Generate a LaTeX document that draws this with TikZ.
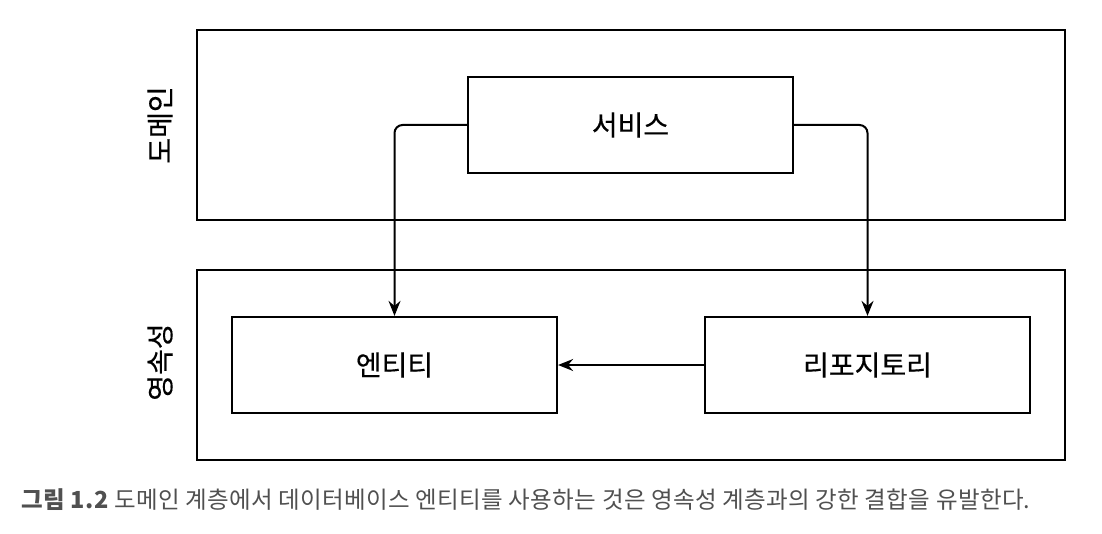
\documentclass[tikz,border=0pt]{standalone}
\usepackage{fontspec}
\setmainfont{Noto Sans CJK KR}
\newfontfamily\labelfont[FakeBold=0.4]{Noto Sans CJK KR}
\newfontfamily\captionfont[LetterSpace=1.5]{Noto Sans CJK KR}
\usetikzlibrary{arrows.meta}
\definecolor{captiongray}{HTML}{505050}
\tikzset{
  layer/.style={draw, line width=2.2pt},
  component/.style={draw, line width=2.2pt, minimum width=325pt, minimum height=96pt, font=\labelfont\fontsize{28}{32}\selectfont},
  layerlabel/.style={rotate=90, font=\labelfont\fontsize{28}{32}\selectfont},
  link/.style={line width=2pt, rounded corners=8pt, -{Stealth[length=15pt,width=12pt,inset=5pt]}}
}
\begin{document}
\begin{tikzpicture}[x=1pt,y=-1pt]
    \useasboundingbox (0,0) rectangle (1102,534);

    % Layers
    \draw[layer] (197,30) rectangle (1065,220);
    \draw[layer] (197,270) rectangle (1065,460);
    \node[layerlabel] (domain) at (160,125) {도메인};
    \node[layerlabel] (persistence) at (160,362) {영속성};

    % Components
    \node[component] (service) at (630.5,125) {서비스};
    \node[component] (entity) at (394.5,365) {엔티티};
    \node[component] (repository) at (867.5,365) {리포지토리};

    % Dependencies
    \draw[link] (service.west) -| (entity.north);
    \draw[link] (service.east) -| (repository.north);
    \draw[link] (repository.west) -- (entity.east);

    % Caption
    \node[anchor=west, text=captiongray, font=\captionfont\fontsize{23.5}{26}\selectfont] (caption) at (18,500)
        {\textbf{그림 1.2} 도메인 계층에서 데이터베이스 엔티티를 사용하는 것은 영속성 계층과의 강한 결합을 유발한다.};
\end{tikzpicture}
\end{document}
